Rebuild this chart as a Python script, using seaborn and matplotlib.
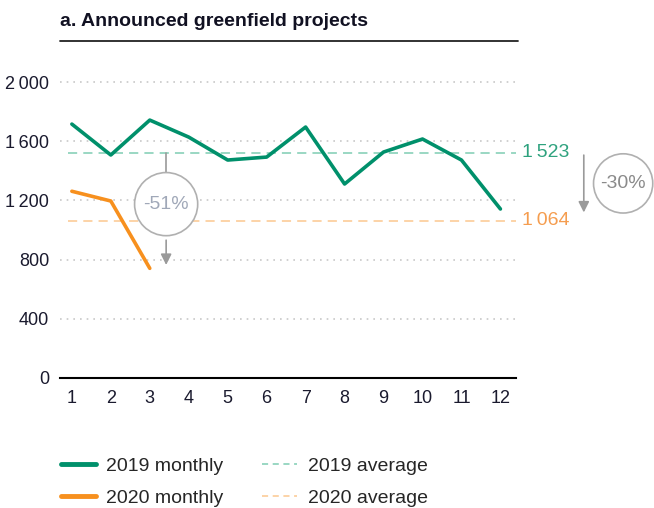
import numpy as np
import pandas as pd
import seaborn as sns
import matplotlib.pyplot as plt
from matplotlib.lines import Line2D

months = list(range(1, 13))
projects_2019 = [1716, 1507, 1743, 1628, 1473, 1493, 1696, 1311, 1527, 1615, 1473, 1142]
months_2020 = [1, 2, 3]
projects_2020 = [1262, 1196, 741]
avg_2019 = 1523
avg_2020 = 1064
change_2020 = '-51%'
change_avg = '-30%'

GREEN = '#00906b'
ORANGE = '#f7901e'
GREEN_L = '#7fcdb3'
ORANGE_L = '#fcc890'
GREY = '#9a9a9a'

df = pd.concat([
    pd.DataFrame({'month': months, 'value': projects_2019, 'series': '2019 monthly'}),
    pd.DataFrame({'month': months_2020, 'value': projects_2020, 'series': '2020 monthly'}),
])

sns.set_style('white')
plt.rcParams['font.family'] = ['Liberation Sans Narrow', 'Liberation Sans', 'DejaVu Sans']

fig = plt.figure(figsize=(6.54, 5.08), dpi=100)
ax = fig.add_axes([0.092, 0.256, 0.697, 0.597])

sns.lineplot(data=df, x='month', y='value', hue='series',
             palette={'2019 monthly': GREEN, '2020 monthly': ORANGE},
             linewidth=2.6, ax=ax, legend=False)

ax.plot([0.9, 12.4], [avg_2019, avg_2019], ls=(0, (6, 4)), color=GREEN_L, lw=1.1, zorder=1)
ax.plot([0.9, 12.4], [avg_2020, avg_2020], ls=(0, (6, 4)), color=ORANGE_L, lw=1.1, zorder=1)

ax.text(12.55, avg_2019, f'{avg_2019 // 1000}\u2009{avg_2019 % 1000:03d}', color='#2ea27e',
        fontsize=14, va='center', ha='left', clip_on=False)
ax.text(12.55, avg_2020, f'{avg_2020 // 1000}\u2009{avg_2020 % 1000:03d}', color='#f59d4f',
        fontsize=14, va='center', ha='left', clip_on=False)

# -51% callout
cx = 3.42
ax.plot([cx, cx], [avg_2019, 1390], color=GREY, lw=1.2)
ax.annotate('', xy=(cx, 745), xytext=(cx, 950),
            arrowprops=dict(arrowstyle='-|>', color=GREY, lw=1.2, mutation_scale=16))
ax.text(cx, 1175, change_2020, fontsize=14, color='#a0a8b8', ha='center', va='center',
        bbox=dict(boxstyle='circle,pad=0.45', fc='white', ec='#b0b0b0', lw=1.2), zorder=5)

# -30% callout
ax.annotate('', xy=(14.14, 1100), xytext=(14.14, 1525),
            arrowprops=dict(arrowstyle='-|>', color=GREY, lw=1.2, mutation_scale=16),
            annotation_clip=False)
ax.text(15.15, 1315, change_avg, fontsize=14, color='#8a8a8a', ha='center', va='center',
        bbox=dict(boxstyle='circle,pad=0.35', fc='white', ec='#b0b0b0', lw=1.2), clip_on=False)

ax.set_xlim(0.7, 12.4)
ax.set_ylim(0, 2050)
ax.set_xticks(months)
ax.set_yticks([0, 400, 800, 1200, 1600, 2000])
ax.set_yticklabels(['0', '400', '800', '1\u2009200', '1\u2009600', '2\u2009000'])
ax.set_xlabel('')
ax.set_ylabel('')
ax.tick_params(axis='both', labelsize=13, length=0, colors='#1a1a2e')
ax.tick_params(axis='x', pad=9)
ax.tick_params(axis='y', pad=8)
for y in [400, 800, 1200, 1600, 2000]:
    ax.axhline(y, color='#c8c8c8', ls=(0, (1, 3)), lw=1.2, zorder=0)
sns.despine(ax=ax, left=True)
ax.spines['bottom'].set_color('black')
ax.spines['bottom'].set_linewidth(1.5)

fig.text(0.092, 0.957, 'a. Announced greenfield projects', fontsize=14, fontweight='bold',
         color='#111122', ha='left', va='center')
fig.add_artist(Line2D([0.092, 0.792], [0.919, 0.919], color='#222222', lw=1.3))

handles = [
    Line2D([], [], color=GREEN, lw=3.5),
    Line2D([], [], color=ORANGE, lw=3.5),
    Line2D([], [], color=GREEN_L, lw=1.1, ls=(0, (4, 3))),
    Line2D([], [], color=ORANGE_L, lw=1.1, ls=(0, (4, 3))),
]
labels = ['2019 monthly', '2020 monthly', '2019 average', '2020 average']
fig.legend(handles, labels, ncol=2, loc='lower left', bbox_to_anchor=(0.066, -0.033),
           frameon=False, fontsize=14, handlelength=1.8, handletextpad=0.55,
           columnspacing=2.0, labelspacing=0.75)

fig.savefig('out.png', dpi=100)
